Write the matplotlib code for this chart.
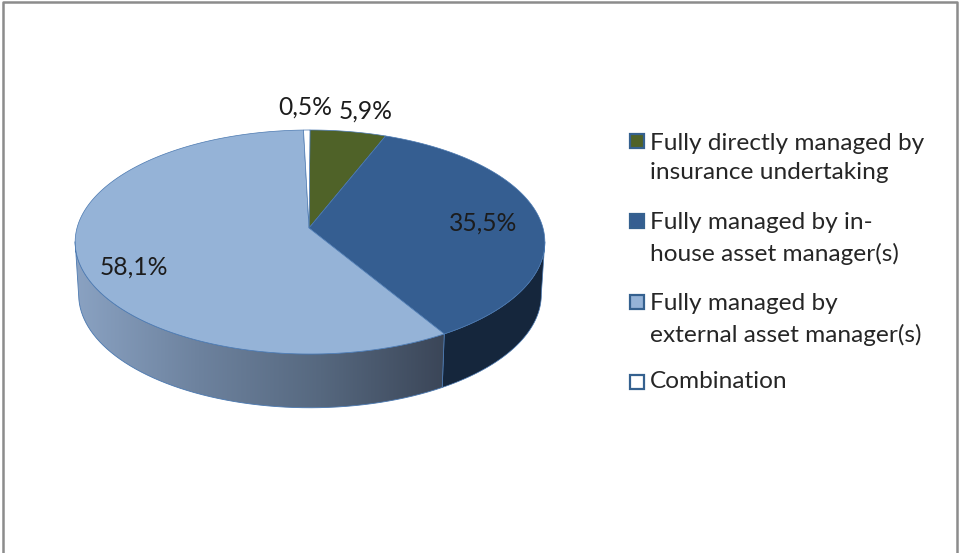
import numpy as np
import matplotlib
matplotlib.use("Agg")
import matplotlib.pyplot as plt
from matplotlib.colors import LinearSegmentedColormap
from matplotlib.patches import Polygon, Rectangle

# data
labels = ["Fully directly managed by\ninsurance undertaking",
          "Fully managed by in-\nhouse asset manager(s)",
          "Fully managed by\nexternal asset manager(s)",
          "Combination"]
values = [5.9, 35.5, 58.1, 0.5]
value_text = ["5,9%", "35,5%", "58,1%", "0,5%"]
colors = ["#4f6228", "#355e91", "#95b3d7", "#ffffff"]
edge = "#4a78b0"

plt.rcParams["font.family"] = ["Lato", "DejaVu Sans"]
fig = plt.figure(figsize=(9.59, 5.53), dpi=100)
ax = fig.add_axes([0, 0, 1, 1])
ax.set_xlim(0, 959)
ax.set_ylim(553, 0)
ax.axis("off")


# tilted pie: unit circle -> picture, with a bit of perspective
def project(theta, drop=0.0, xscale=1.0):
    t = np.radians(theta)
    u, v = np.sin(t), np.cos(t)
    w = 1 + 0.125 * v
    x = 310 + 233 * xscale * u / w
    y = (228 - 81.75 * v) / w
    return x, 228 + (y - 228) * (1.01 if drop else 1) + drop


def side(a, b):
    t = np.linspace(a, b, 120)
    x1, y1 = project(t)
    x2, y2 = project(t[::-1], 52.5, 0.985)
    return np.r_[x1, x2], np.r_[y1, y2]


edges = np.r_[0, np.cumsum(values)] / sum(values) * 360

# side wall, dark part (97 and 263 deg are the widest points of the ellipse)
x, y = side(97, edges[2])
ax.fill(x, y, color="#15263c", ec=edge, lw=0.5, zorder=1)

# side wall, gradient part
x, y = side(edges[2], 263)
wall = Polygon(np.c_[x, y], closed=True, transform=ax.transData, fc="none", ec="none")
ax.add_patch(wall)
cmap = LinearSegmentedColormap.from_list("wall", ["#8aa2c2", "#6d829e", "#56687f", "#3b4658"])
img = ax.imshow(np.linspace(0, 1, 256)[None, :], cmap=cmap, extent=[76, 444, 553, 0],
                aspect="auto", zorder=1)
img.set_clip_path(wall)
ax.plot(np.r_[x, x[0]], np.r_[y, y[0]], color=edge, lw=0.6, zorder=1.5)
ax.set_xlim(0, 959)
ax.set_ylim(553, 0)

# top of the pie
for i in range(len(values)):
    t = np.linspace(edges[i], edges[i + 1], 200)
    x, y = project(t)
    ax.fill(np.r_[x, 309], np.r_[y, 228], fc=colors[i], ec=edge, lw=0.5, zorder=2)

# value labels
label_xy = [(365.5, 111), (483, 223), (134, 267), (305, 107)]
for s, (lx, ly) in zip(value_text, label_xy):
    ax.text(lx, ly, s, fontsize=17.7, color="#1c1c1c", ha="center", va="center", zorder=3)

# legend
legend_y = [156.5, 237, 318, 382]
for s, c, ly in zip(labels, colors, legend_y):
    mark_y = ly - 15.5 if "\n" in s else ly
    text_y = ly + 1.5 if "\n" in s else ly
    ax.add_patch(Rectangle((629.5, mark_y - 7.5), 14, 14, fc=c, ec="#35618f", lw=1.6, zorder=3))
    ax.text(650, text_y, s, fontsize=17.6, color="#262626", ha="left", va="center", linespacing=1.52, zorder=3)

# outer frame, no bottom line
ax.plot([2.5, 2.5, 957, 957], [553, 2, 2, 553], color="#8c8c8c", lw=1.8, zorder=4)

fig.savefig("out.png", dpi=100)
